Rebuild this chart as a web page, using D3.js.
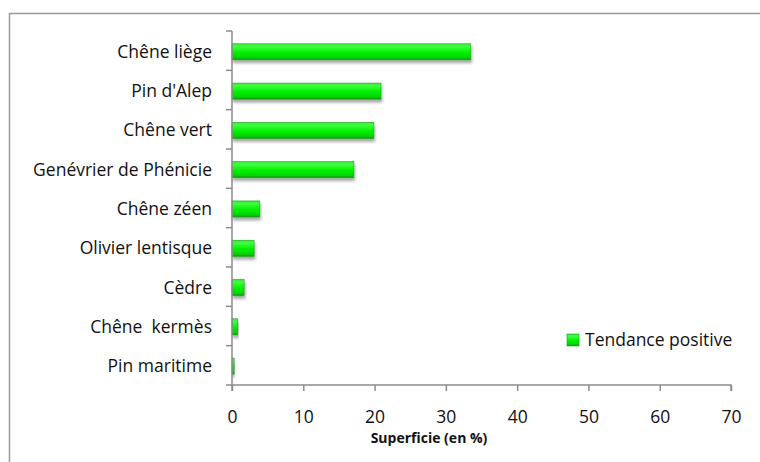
<!DOCTYPE html>
<html>
<head>
<meta charset="utf-8">
<script src="https://cdn.jsdelivr.net/npm/d3@7"></script>
<style>
  body { margin: 0; background: #fff; }
  svg { display: block; font-family: "Open Sans", "Noto Sans", sans-serif; }
</style>
</head>
<body>
<div id="chart"></div>
<script>
// species, top to bottom
var especes = ["Chêne liège", "Pin d'Alep", "Chêne vert", "Genévrier de Phénicie",
  "Chêne zéen", "Olivier lentisque", "Cèdre", "Chêne  kermès", "Pin maritime"]
var tendancePositive = [33.5, 20.9, 19.9, 17.1, 3.9, 3.1, 1.7, 0.8, 0.3]
var xTicks = [0, 10, 20, 30, 40, 50, 60, 70]
var serieNom = "Tendance positive"
var axeTitre = "Superficie (en %)"

var W = 760, H = 462
var margin = {left: 232, right: 29, top: 31, bottom: 77}

var svg = d3.select('#chart').append('svg')
  .attr('width', W).attr('height', H)

var defs = svg.append('defs')
var grad = defs.append('linearGradient').attr('id', 'barGrad')
  .attr('x1', 0).attr('y1', 0).attr('x2', 0).attr('y2', 1)
grad.append('stop').attr('offset', '0%').attr('stop-color', '#3ee83e')
grad.append('stop').attr('offset', '18%').attr('stop-color', '#3cff3c')
grad.append('stop').attr('offset', '55%').attr('stop-color', '#00f000')
grad.append('stop').attr('offset', '85%').attr('stop-color', '#06d406')
grad.append('stop').attr('offset', '100%').attr('stop-color', '#129412')

var shadow = defs.append('filter').attr('id', 'shadow')
  .attr('x', '-10%').attr('y', '-30%').attr('width', '130%').attr('height', '190%')
shadow.append('feGaussianBlur').attr('in', 'SourceAlpha').attr('stdDeviation', 1.6)
shadow.append('feOffset').attr('dx', 1).attr('dy', 3).attr('result', 'off')
shadow.append('feComponentTransfer').append('feFuncA').attr('type', 'linear').attr('slope', 0.35)
var merge = shadow.append('feMerge')
merge.append('feMergeNode')
merge.append('feMergeNode').attr('in', 'SourceGraphic')

// chart border
svg.append('rect')
  .attr('x', 9.5).attr('y', 13.5).attr('width', 760).attr('height', 460)
  .attr('fill', 'none').attr('stroke', '#9a9a9a').attr('stroke-width', 1.5)

var x = d3.scaleLinear().domain([0, 70]).range([margin.left, W - margin.right])
var y = d3.scaleBand().domain(especes).range([margin.top, H - margin.bottom]).paddingInner(0.59).paddingOuter(0.3)
var yAxisScale = d3.scaleBand().domain(especes).range([margin.top, H - margin.bottom])

// bars
svg.selectAll('rect.bar').data(tendancePositive).enter()
  .append('rect').attr('class', 'bar')
  .attr('x', x(0))
  .attr('y', function(d, i){ return y(especes[i]) + 1 })
  .attr('width', function(d){ return x(d) - x(0) })
  .attr('height', y.bandwidth())
  .attr('fill', 'url(#barGrad)')
  .attr('stroke', '#1fa01f').attr('stroke-width', 0.6)
  .attr('filter', 'url(#shadow)')

// y axis
var yAxis = svg.append('g')
  .attr('transform', 'translate(' + x(0) + ',0)')
yAxis.append('line')
  .attr('y1', margin.top).attr('y2', H - margin.bottom)
  .attr('stroke', '#8c8c8c').attr('stroke-width', 1.5)
var yTickPos = especes.map(function(e){ return yAxisScale(e) }).concat([H - margin.bottom])
yAxis.selectAll('line.tk').data(yTickPos).enter().append('line').attr('class', 'tk')
  .attr('x1', -6).attr('x2', 0).attr('y1', function(d){ return d }).attr('y2', function(d){ return d })
  .attr('stroke', '#8c8c8c').attr('stroke-width', 1.5)
yAxis.selectAll('text').data(especes).enter().append('text')
  .attr('x', -20)
  .attr('y', function(d){ return yAxisScale(d) + yAxisScale.bandwidth() / 2 + 1 })
  .attr('dy', '0.35em')
  .attr('text-anchor', 'end')
  .attr('font-size', 17.5)
  .attr('fill', '#111')
  .style('white-space', 'pre')
  .text(function(d){ return d })

// x axis
var xAxis = svg.append('g')
  .attr('transform', 'translate(0,' + (H - margin.bottom) + ')')
  .call(d3.axisBottom(x).tickValues(xTicks).tickSize(6).tickPadding(20).tickFormat(d3.format('d')))
xAxis.select('.domain').attr('stroke', '#8c8c8c').attr('stroke-width', 1.5)
  .attr('d', 'M' + x(0) + ',6V0H' + x(70) + 'V6')
xAxis.selectAll('.tick line').attr('stroke', '#8c8c8c').attr('stroke-width', 1.5)
xAxis.selectAll('.tick text').attr('font-size', 17.5).attr('fill', '#111')
  .attr('font-family', '"Open Sans", sans-serif')

svg.append('text')
  .attr('x', 429).attr('y', 443)
  .attr('text-anchor', 'middle')
  .attr('font-size', 14)
  .attr('font-weight', 'bold')
  .attr('fill', '#111')
  .text(axeTitre)

// legend
var leg = svg.append('g').attr('transform', 'translate(567,334)')
leg.append('rect').attr('width', 12).attr('height', 12)
  .attr('fill', 'url(#barGrad)').attr('stroke', '#1fa01f').attr('stroke-width', 0.6)
leg.append('text').attr('x', 18).attr('y', 6).attr('dy', '0.35em')
  .attr('font-size', 17.5).attr('fill', '#111')
  .text(serieNom)
</script>
</body>
</html>
